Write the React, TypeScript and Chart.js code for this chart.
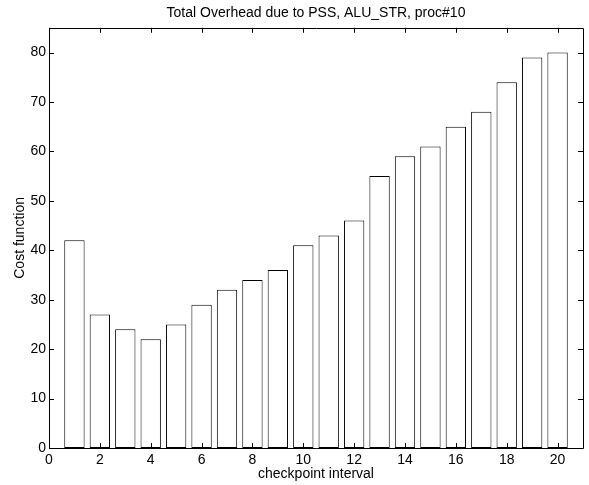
import React, { useEffect, useRef } from "react";
import { Chart, registerables } from "chart.js";

Chart.register(...registerables);

const intervals = [1, 2, 3, 4, 5, 6, 7, 8, 9, 10, 11, 12, 13, 14, 15, 16, 17, 18, 19, 20];
const costValues = [42, 27, 24, 22, 25, 29, 32, 34, 36, 41, 43, 46, 55, 59, 61, 65, 68, 74, 79, 80];
const xTickStep = 2;
const yTickStep = 10;

const FONT = "'Liberation Sans', Arial, Helvetica, sans-serif";

const boxTicksPlugin = {
  id: "boxTicks",
  afterDatasetsDraw(chart: any) {
    const { ctx, chartArea, scales } = chart;
    const { left, right, top, bottom } = chartArea;
    const len = 5;
    ctx.save();
    ctx.strokeStyle = "#000";
    ctx.lineWidth = 1;
    ctx.beginPath();
    ctx.rect(Math.round(left) + 0.5, Math.round(top) + 0.5, Math.round(right - left), Math.round(bottom - top));
    ctx.stroke();
    ctx.beginPath();
    for (const t of scales.x.ticks) {
      const px = Math.round(scales.x.getPixelForValue(t.value)) + 0.5;
      ctx.moveTo(px, bottom);
      ctx.lineTo(px, bottom - len);
      ctx.moveTo(px, top);
      ctx.lineTo(px, top + len);
    }
    for (const t of scales.y.ticks) {
      const py = Math.round(scales.y.getPixelForValue(t.value)) + 0.5;
      ctx.moveTo(left, py);
      ctx.lineTo(left + len, py);
      ctx.moveTo(right, py);
      ctx.lineTo(right - len, py);
    }
    ctx.stroke();
    ctx.restore();
  },
};

export default function App() {
  const ref = useRef<HTMLCanvasElement | null>(null);

  useEffect(() => {
    if (!ref.current) return;
    const chart = new Chart(ref.current, {
      type: "bar",
      data: {
        datasets: [
          {
            data: intervals.map((x, i) => ({ x, y: costValues[i] })),
            backgroundColor: "#ffffff",
            borderColor: "#000000",
            borderWidth: 1,
            borderSkipped: false,
            categoryPercentage: 1,
            barPercentage: 0.8,
          },
        ],
      },
      options: {
        responsive: false,
        animation: false,
        layout: { padding: { left: 0, right: 6, top: 0, bottom: 0 } },
        plugins: {
          legend: { display: false },
          tooltip: { enabled: false },
          title: {
            display: true,
            text: "Total Overhead due to PSS, ALU_STR, proc#10",
            color: "#000",
            fullSize: false,
            font: { family: FONT, size: 14, weight: "normal" },
            padding: { top: 5, bottom: 6 },
          },
        },
        scales: {
          x: {
            type: "linear",
            min: 0,
            max: 21,
            offset: false,
            grid: { display: false, drawTicks: false },
            border: { display: false },
            ticks: {
              stepSize: xTickStep,
              color: "#000",
              padding: 4,
              maxRotation: 0,
              font: { family: FONT, size: 14 },
            },
            afterBuildTicks: (scale: any) => {
              scale.ticks = scale.ticks.filter((t: any) => t.value % xTickStep === 0);
            },
            afterFit: (scale: any) => {
              scale.height = 37;
            },
            title: {
              display: true,
              text: "checkpoint interval",
              color: "#000",
              font: { family: FONT, size: 14 },
              padding: { top: 0, bottom: 2 },
            },
          },
          y: {
            type: "linear",
            min: 0,
            max: 85,
            grid: { display: false, drawTicks: false },
            border: { display: false },
            ticks: {
              stepSize: yTickStep,
              color: "#000",
              padding: 3,
              font: { family: FONT, size: 14 },
            },
            afterBuildTicks: (scale: any) => {
              scale.ticks = scale.ticks.filter((t: any) => t.value % yTickStep === 0);
            },
            afterFit: (scale: any) => {
              scale.width = 49;
            },
            title: {
              display: true,
              text: "Cost function",
              color: "#000",
              font: { family: FONT, size: 14 },
              padding: { top: 12, bottom: 0 },
            },
          },
        },
      },
      plugins: [boxTicksPlugin],
    } as any);
    return () => chart.destroy();
  }, []);

  return (
    <div style={{ position: "fixed", left: 0, top: 0, width: 589, height: 485, background: "#fff" }}>
      <canvas ref={ref} width={589} height={485} style={{ display: "block" }} />
    </div>
  );
}
